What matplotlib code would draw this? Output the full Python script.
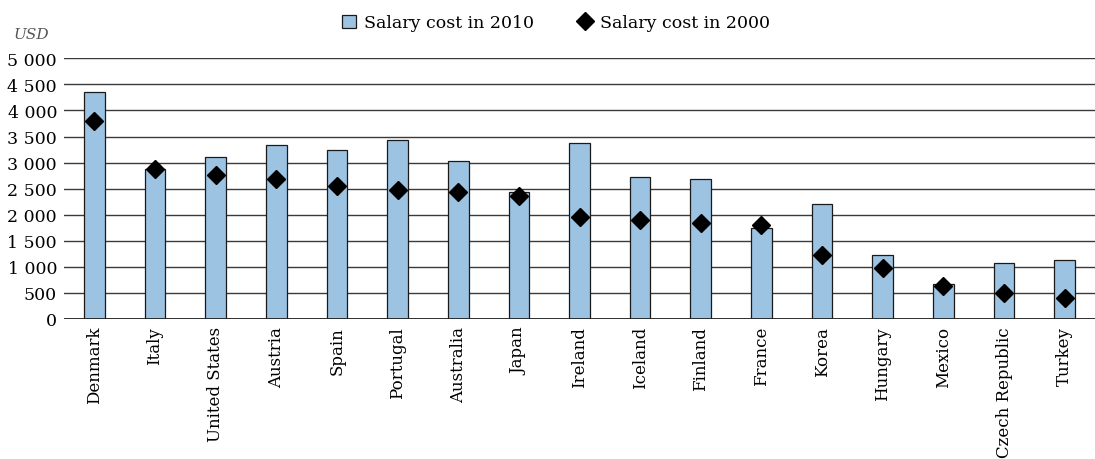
import matplotlib
matplotlib.use("Agg")
import matplotlib.pyplot as plt
from matplotlib.lines import Line2D
from matplotlib.patches import Patch
import numpy as np

countries = ["Denmark", "Italy", "United States", "Austria", "Spain", "Portugal",
             "Australia", "Japan", "Ireland", "Iceland", "Finland", "France",
             "Korea", "Hungary", "Mexico", "Czech Republic", "Turkey"]
salary_2010 = [4360, 2880, 3110, 3330, 3250, 3440, 3025, 2440, 3380, 2720,
               2680, 1750, 2200, 1230, 665, 1070, 1140]
salary_2000 = [3790, 2885, 2765, 2680, 2550, 2470, 2430, 2360, 1965, 1905,
               1845, 1805, 1235, 975, 640, 505, 405]
y_ticks = [0, 500, 1000, 1500, 2000, 2500, 3000, 3500, 4000, 4500, 5000]

plt.rcParams['font.family'] = ['DejaVu Serif']

fig = plt.figure(figsize=(10.95, 4.6), dpi=100)
ax = fig.add_axes([64 / 1095, 1 - 320 / 460, 1 - 64 / 1095, (320 - 59.3) / 460])

x = np.arange(len(countries))
ax.bar(x, salary_2010, width=0.34, color='#9DC3E3', edgecolor='#1a1a1a',
       linewidth=0.9, zorder=2)
ax.plot(x, salary_2000, linestyle='none', marker='D', markersize=9,
        color='black', zorder=3)

ax.set_xlim(-0.5, len(countries) - 0.5)
ax.set_ylim(0, 5000)
ax.set_yticks(y_ticks)
ax.set_yticklabels([f"{v:,}".replace(",", " ") for v in y_ticks], fontsize=12.5)
ax.set_xticks(x)
ax.set_xticklabels(countries, rotation=90, fontsize=12)
ax.tick_params(length=0, pad=5)
ax.yaxis.grid(True, color='#3a3a3a', linewidth=1.0, zorder=0)
ax.set_axisbelow(True)
for s in ax.spines.values():
    s.set_visible(False)
ax.axhline(0, color='#222222', linewidth=1.3, zorder=4)

fig.text(14 / 1095, 1 - 35 / 460, "USD", fontsize=11, style='italic',
         color='#555555', va='center', ha='left')

handles = [Patch(facecolor='#9DC3E3', edgecolor='#1a1a1a', linewidth=0.9),
           Line2D([], [], linestyle='none', marker='D', markersize=9, color='black')]
fig.legend(handles, ["Salary cost in 2010", "Salary cost in 2000"],
           loc='center', bbox_to_anchor=(556 / 1095, 1 - 24 / 460), ncol=2,
           frameon=False, fontsize=12.5, handlelength=0.8, handleheight=0.8,
           columnspacing=2.5, handletextpad=0.5)

fig.savefig("out.png", dpi=100)
